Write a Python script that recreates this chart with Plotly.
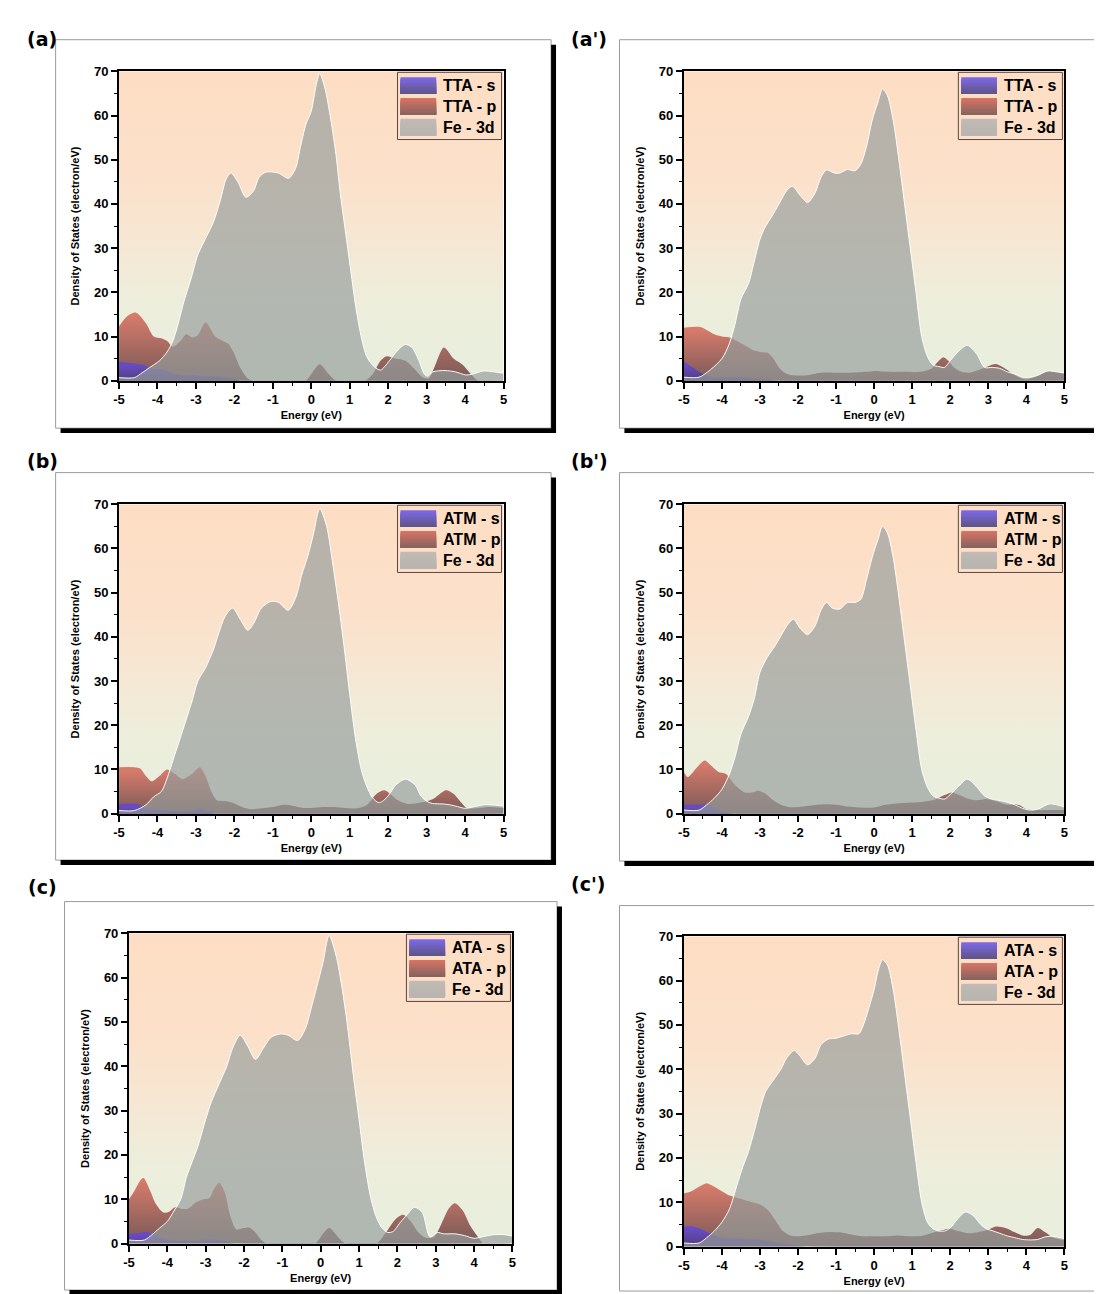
import plotly.graph_objects as go

W, H = 1102, 1294
X_RANGE = [-5, 5]
Y_RANGE = [0, 70]
X_TICKS = [-5, -4, -3, -2, -1, 0, 1, 2, 3, 4, 5]
X_TICK_TEXT = ["-5", "-4", "-3", "-2", "-1", "0", "1", "2", "3", "4", "5"]
Y_TICKS = [0, 10, 20, 30, 40, 50, 60, 70]
Y_TICK_TEXT = ["0", "10", "20", "30", "40", "50", "60", "70"]

# ---------------- data ----------------
# Panel (a) TTA
A_FE_X = [-5, -4.6, -4.4, -4.2, -3.95, -3.75, -3.6, -3.49, -3.31, -3.13, -2.95, -2.76, -2.54, -2.36, -2.22, -2.09, -1.91, -1.7, -1.5, -1.36, -1.18, -0.86, -0.59, -0.41, -0.28, -0.14, 0.0, 0.13, 0.22, 0.36, 0.49, 0.63, 0.76, 0.9, 1.04, 1.17, 1.31, 1.44, 1.62, 1.8, 2.03, 2.21, 2.44, 2.62, 2.8, 2.94, 3.03, 3.16, 3.48, 3.75, 4.02, 4.2, 4.48, 4.75, 5]
A_FE_Y = [0.7, 0.7, 1.8, 3.0, 4.5, 6.5, 9, 12, 18, 23, 28.5, 32, 36, 41, 45.5, 47, 45, 41.5, 43, 46, 47.2, 47, 45.8, 48, 53, 58, 61, 67, 69.5, 66, 60, 52, 42, 33, 24, 16, 9.5, 5.5, 3.3, 2.4, 4.5, 6.5, 8.2, 7.5, 4.5, 1.5, 1.0, 2.0, 2.3, 2.0, 1.3, 1.5, 2.2, 2.0, 1.7]
A_P_X = [-5, -4.8, -4.56, -4.3, -4.1, -3.9, -3.75, -3.6, -3.4, -3.25, -3.1, -2.95, -2.75, -2.5, -2.3, -2.15, -2.0, -1.85, -1.65, -1.5, -0.15, 0.0, 0.22, 0.45, 0.65, 1.4, 1.6, 1.8, 1.95, 2.2, 2.45, 2.7, 2.9, 3.05, 3.2, 3.45, 3.7, 3.95, 4.15, 4.35, 5]
A_P_Y = [12.3, 14.5, 15.4, 13, 10, 9.6, 9, 7.7, 9, 10.5, 9.8, 10.3, 13.2, 10, 9, 8.3, 6, 3, 0.5, 0, 0, 1.5, 3.7, 1.5, 0, 0, 1.5, 4.5, 5.5, 5, 4.5, 2.5, 0.8, 0.5, 3, 7.5, 5, 3.5, 1.5, 0, 0]
A_S_X = [-5, -4.5, -4.3, -4.15, -3.85, -3.5, -3.0, -2.7, -2.3, -2.0, -1.8, 5]
A_S_Y = [4.3, 3.8, 3.4, 2.7, 2.6, 1.4, 1.2, 1.0, 0.8, 0.4, 0, 0]

# Panel (a') TTA
AP_FE_X = [-5, -4.6, -4.3, -4.0, -3.8, -3.65, -3.5, -3.3, -3.15, -3.0, -2.85, -2.7, -2.5, -2.3, -2.15, -1.95, -1.75, -1.55, -1.4, -1.25, -1.05, -0.9, -0.7, -0.5, -0.35, -0.2, -0.05, 0.1, 0.22, 0.35, 0.5, 0.65, 0.8, 0.95, 1.1, 1.25, 1.4, 1.55, 1.7, 1.85, 2.0, 2.2, 2.45, 2.7, 2.9, 3.1, 3.3, 3.5, 3.7, 3.9, 4.1, 4.3, 4.55, 4.8, 5]
AP_FE_Y = [0.8, 0.8, 2.5, 5, 8.5, 13, 18.5, 22, 27, 32, 35, 37, 40, 43, 44, 42, 40.3, 42.5, 46, 47.7, 47, 47, 47.8, 47.5, 49, 53, 59, 63, 66, 64.5, 59, 50, 40, 30, 20, 10, 5.5, 3.5, 3.2, 3.0, 4.5, 6.5, 8, 6, 3, 3, 2.8, 2, 1.5, 0.8, 0.8, 1.2, 2.2, 2, 1.8]
AP_P_X = [-5, -4.6, -4.4, -4.2, -4.0, -3.8, -3.6, -3.4, -3.2, -3.0, -2.8, -2.65, -2.5, -2.35, -2.2, -1.8, -1.4, -1.0, -0.6, -0.2, 0.0, 0.4, 0.8, 1.2, 1.5, 1.7, 1.82, 1.95, 2.1, 2.3, 2.5, 2.7, 3.0, 3.2, 3.4, 3.6, 3.8, 4.0, 4.2, 4.4, 4.6, 4.8, 5]
AP_P_Y = [12, 12.2, 11.5, 10.5, 10, 9.8, 9, 8, 7, 6.5, 6.3, 5, 3, 1.8, 1.3, 1.2, 1.8, 1.8, 1.8, 2.0, 2.2, 2.0, 2.0, 2.0, 2.7, 4.5, 5.3, 4.5, 3, 2, 1.8, 2.3, 3.3, 3.8, 3.0, 1.8, 0.8, 0.3, 0.8, 1.5, 2.2, 1.9, 1.5]
AP_S_X = [-5, -4.8, -4.6, -4.4, -4.2, -4.0, -3.6, -3.2, -2.8, -2.5, 5]
AP_S_Y = [4.3, 3.2, 2.0, 1.2, 0.8, 0.7, 0.9, 0.6, 0.3, 0, 0]

# Panel (b) ATM
B_FE_X = [-5, -4.6, -4.3, -4.1, -3.9, -3.75, -3.6, -3.45, -3.3, -3.1, -2.95, -2.75, -2.55, -2.4, -2.25, -2.05, -1.85, -1.65, -1.5, -1.3, -1.05, -0.85, -0.6, -0.4, -0.25, -0.1, 0.05, 0.22, 0.4, 0.55, 0.7, 0.85, 1.0, 1.15, 1.3, 1.45, 1.6, 1.75, 1.85, 2.0, 2.2, 2.45, 2.7, 2.85, 3.0, 3.15, 3.4, 3.6, 3.8, 4.0, 4.2, 4.5, 4.8, 5]
B_FE_Y = [0.7, 0.7, 2, 3.8, 5, 8, 12, 16, 20, 25.5, 30, 33, 37, 41, 44.5, 46.5, 44, 41.5, 43, 46.5, 48, 47.8, 46, 49, 54, 58, 63, 69, 65, 57, 48, 38, 27, 17, 10, 6, 3.5, 2.5, 2.8, 4, 6.5, 7.8, 6.5, 4, 2.8, 2.3, 2.2, 2.0, 1.6, 1.2, 1.5, 2.0, 1.9, 1.7]
B_P_X = [-5, -4.6, -4.45, -4.3, -4.15, -3.95, -3.75, -3.55, -3.35, -3.1, -2.9, -2.75, -2.6, -2.45, -2.2, -2.0, -1.8, -1.6, -1.3, -1.0, -0.7, -0.5, -0.2, 0.0, 0.3, 0.6, 0.9, 1.2, 1.45, 1.7, 1.9, 2.05, 2.25, 2.5, 2.7, 3.0, 3.2, 3.5, 3.7, 3.9, 4.05, 4.3, 4.6, 5]
B_P_Y = [10.5, 10.5, 10.2, 8.5, 7.3, 8.5, 10, 9, 7.8, 9, 10.5, 8.5, 5, 3, 2.8, 2.3, 1.5, 1.0, 1.2, 1.5, 2.0, 1.8, 1.3, 1.3, 1.5, 1.5, 1.3, 1.2, 2, 4.5, 5.3, 4.5, 3, 2.2, 2.3, 2.8, 3.5, 5.3, 4.5, 2.5, 1.2, 1.2, 1.5, 1.3]
B_S_X = [-5, -4.5, -4.4, -4.2, -4.0, -3.7, -3.4, -3.1, -2.9, -2.7, -2.5, 5]
B_S_Y = [2.2, 2.2, 1.6, 1.0, 0.8, 0.7, 0.4, 0.6, 1.0, 0.6, 0, 0]

# Panel (b') ATM
BP_FE_X = [-5, -4.6, -4.4, -4.2, -4.0, -3.8, -3.65, -3.5, -3.3, -3.15, -3.0, -2.8, -2.6, -2.4, -2.25, -2.12, -1.95, -1.75, -1.55, -1.4, -1.25, -1.1, -0.9, -0.7, -0.5, -0.35, -0.2, -0.05, 0.1, 0.22, 0.35, 0.5, 0.65, 0.8, 0.95, 1.1, 1.25, 1.4, 1.55, 1.7, 1.85, 2.0, 2.2, 2.45, 2.7, 2.9, 3.1, 3.4, 3.7, 3.9, 4.1, 4.3, 4.6, 4.8, 5]
BP_FE_Y = [0.8, 0.8, 2, 3.5, 5.5, 9, 13, 18, 22, 26, 32, 35.5, 38, 41, 43, 44, 42, 40.5, 42.5, 46, 47.8, 46.5, 46.3, 47.8, 47.8, 48.5, 53, 58, 62, 65, 63.5, 58, 49, 39, 29, 19, 10, 6, 4, 3.5, 3.3, 4.3, 6, 7.8, 6, 4, 3.3, 2.8, 2, 1.2, 0.8, 1.0, 2.2, 2.0, 1.5]
BP_P_X = [-5, -4.9, -4.75, -4.6, -4.45, -4.3, -4.1, -3.9, -3.75, -3.6, -3.4, -3.2, -3.05, -2.85, -2.65, -2.45, -2.25, -2.0, -1.7, -1.3, -1.0, -0.7, -0.4, 0.0, 0.3, 0.6, 1.0, 1.3, 1.6, 1.85, 2.05, 2.3, 2.5, 2.7, 2.95, 3.2, 3.5, 3.7, 3.85, 4.0, 4.3, 4.6, 5]
BP_P_Y = [9.5, 8.3, 9.5, 11, 12, 11, 9.5, 9, 7.5, 6, 4.8, 4.8, 5.2, 4.5, 3, 2, 1.5, 1.5, 1.8, 2.1, 2, 1.6, 1.4, 1.4, 2, 2.3, 2.5, 2.7, 3.2, 4.2, 4.8, 4, 3.3, 3, 3.3, 2.8, 2.0, 2.1, 1.8, 1.0, 0.8, 0.8, 0.8]
BP_S_X = [-5, -4.6, -4.4, -4.25, -4.1, -3.9, -3.7, 5]
BP_S_Y = [2.0, 2.0, 2.1, 1.5, 0.8, 0.3, 0, 0]

# Panel (c) ATA
C_FE_X = [-5, -4.6, -4.4, -4.2, -4.0, -3.85, -3.65, -3.5, -3.35, -3.2, -3.0, -2.85, -2.65, -2.45, -2.3, -2.1, -1.9, -1.7, -1.5, -1.3, -1.05, -0.85, -0.6, -0.4, -0.25, -0.1, 0.05, 0.22, 0.4, 0.55, 0.7, 0.85, 1.0, 1.15, 1.3, 1.45, 1.6, 1.75, 1.9, 2.05, 2.25, 2.45, 2.65, 2.85, 3.05, 3.2, 3.5, 3.75, 4.0, 4.2, 4.5, 4.8, 5]
C_FE_Y = [0.8, 0.8, 2, 3.5, 5, 7, 10, 15, 18.5, 22, 28, 32, 36, 40, 44, 47, 44.5, 41.5, 44, 46.5, 47.3, 47, 45.8, 48.5, 53, 58, 63, 69.5, 65, 58, 49, 38, 28, 18, 10.5, 6, 3.5, 2.5, 2.8, 4.5, 6.5, 8.2, 7, 1.5, 2.5, 2.2, 2.2, 1.8, 1.2, 1.5, 2.0, 2.0, 1.7]
C_P_X = [-5, -4.85, -4.7, -4.62, -4.45, -4.3, -4.1, -3.95, -3.8, -3.6, -3.45, -3.25, -3.05, -2.9, -2.8, -2.65, -2.5, -2.35, -2.2, -2.0, -1.85, -1.7, -1.55, -1.4, -0.15, 0.0, 0.22, 0.45, 0.65, 1.45, 1.7, 1.95, 2.15, 2.35, 2.55, 2.75, 2.95, 3.15, 3.35, 3.5, 3.7, 3.9, 4.1, 4.25, 5]
C_P_Y = [10, 12, 14.3, 14.8, 12, 9, 7, 7.2, 8.2, 7.8, 7.9, 9.3, 10, 10.3, 12, 13.7, 11.5, 6, 3.2, 3.5, 3.6, 2.5, 0.8, 0, 0, 1.5, 3.5, 1.5, 0, 0, 2.5, 5.5, 6.5, 5, 2.5, 1.3, 1.5, 4.5, 8, 9.1, 7.5, 4, 1.5, 0, 0]
C_S_X = [-5, -4.75, -4.55, -4.4, -4.2, -4.0, -3.6, -3.2, -2.9, -2.6, -2.4, -2.2, 5]
C_S_Y = [2.2, 2.4, 2.6, 2.3, 1.5, 1.0, 0.5, 0.6, 1.0, 0.7, 0.3, 0, 0]

# Panel (c') ATA
CP_FE_X = [-5, -4.6, -4.4, -4.2, -4.0, -3.8, -3.6, -3.45, -3.3, -3.15, -3.0, -2.85, -2.65, -2.45, -2.3, -2.1, -1.95, -1.75, -1.55, -1.4, -1.2, -1.0, -0.8, -0.6, -0.4, -0.28, -0.15, 0.0, 0.1, 0.22, 0.35, 0.5, 0.65, 0.8, 0.95, 1.1, 1.25, 1.4, 1.55, 1.7, 1.85, 2.0, 2.2, 2.4, 2.6, 2.8, 2.95, 3.1, 3.3, 3.5, 3.7, 3.9, 4.1, 4.3, 4.5, 4.7, 5]
CP_FE_Y = [0.8, 0.8, 2, 3.5, 5.5, 8.5, 14, 18, 21.5, 26, 31, 35, 37.5, 40, 42.5, 44.2, 43, 41, 42.5, 45.5, 46.8, 47, 47.5, 48, 48, 50, 53.5, 58, 62, 64.7, 63.5, 58, 49, 39, 29, 19, 10, 5.5, 4, 3.5, 3.5, 4.2, 6.3, 7.8, 7, 5, 4, 3.6, 3, 2.4, 2.0, 1.6, 1.5, 1.6, 2.2, 2.3, 1.8]
CP_P_X = [-5, -4.8, -4.6, -4.4, -4.2, -4.0, -3.8, -3.6, -3.4, -3.2, -3.0, -2.8, -2.6, -2.4, -2.2, -2.0, -1.8, -1.5, -1.2, -0.9, -0.6, -0.3, 0.0, 0.3, 0.6, 1.0, 1.3, 1.6, 1.85, 2.0, 2.2, 2.5, 2.75, 3.0, 3.2, 3.45, 3.7, 3.9, 4.1, 4.3, 4.5, 4.7, 5]
CP_P_Y = [12, 12.5, 13.5, 14.3, 13.5, 12.5, 11.5, 11, 10.5, 10, 9.5, 8.3, 6, 3.5, 2.5, 2.3, 2.5, 3.0, 3.3, 3.2, 2.7, 2.3, 2.3, 2.3, 2.5, 2.3, 2.5, 3.3, 3.8, 4.0, 3.5, 3.0, 3.3, 3.8, 4.5, 4.2, 3.2, 2.5, 2.6, 4.2, 3.2, 2.0, 1.5]
CP_S_X = [-5, -4.8, -4.6, -4.4, -4.2, -4.0, -3.6, -3.2, -2.9, -2.6, -2.3, -2.0, -1.7, 5]
CP_S_Y = [4.5, 4.6, 4.2, 3.3, 2.6, 2.0, 1.8, 1.6, 1.5, 1.0, 0.5, 0.2, 0, 0]

PANEL_LABELS = ["(a)", "(a')", "(b)", "(b')", "(c)", "(c')"]
LIGAND_NAMES = ["TTA", "TTA", "ATM", "ATM", "ATA", "ATA"]
X_TITLE = "Energy (eV)"
Y_TITLE = "Density of States (electron/eV)"

# ---------------- layout geometry (pixels) ----------------
PANELS = [
    dict(fe=(A_FE_X, A_FE_Y), p=(A_P_X, A_P_Y), s=(A_S_X, A_S_Y),
         plot=(106, 57, 494, 370), frame=(42, 25, 542, 418), sr=True, sb=True, lab=(11, 24)),
    dict(fe=(AP_FE_X, AP_FE_Y), p=(AP_P_X, AP_P_Y), s=(AP_S_X, AP_S_Y),
         plot=(676, 57, 1060, 370), frame=(611, 25, 1110, 418), sr=False, sb=True, lab=(560, 24)),
    dict(fe=(B_FE_X, B_FE_Y), p=(B_P_X, B_P_Y), s=(B_S_X, B_S_Y),
         plot=(106, 495, 494, 808), frame=(42, 463, 542, 855), sr=True, sb=True, lab=(11, 451)),
    dict(fe=(BP_FE_X, BP_FE_Y), p=(BP_P_X, BP_P_Y), s=(BP_S_X, BP_S_Y),
         plot=(676, 495, 1060, 808), frame=(611, 463, 1110, 856), sr=False, sb=True, lab=(560, 451)),
    dict(fe=(C_FE_X, C_FE_Y), p=(C_P_X, C_P_Y), s=(C_S_X, C_S_Y),
         plot=(116, 929, 503, 1243), frame=(51, 897, 548, 1290), sr=True, sb=True, lab=(12, 882)),
    dict(fe=(CP_FE_X, CP_FE_Y), p=(CP_P_X, CP_P_Y), s=(CP_S_X, CP_S_Y),
         plot=(676, 932, 1060, 1246), frame=(611, 901, 1110, 1291), sr=False, sb=False, lab=(560, 879)),
]

FONT = "Liberation Sans, Arial, sans-serif"
BG_SCALE = [[0.0, "rgb(232,238,221)"], [0.25, "rgb(237,238,220)"], [0.5, "rgb(247,230,210)"],
            [0.68, "rgb(252,224,201)"], [1.0, "rgb(253,222,196)"]]
P_SCALE = [[0.0, "rgba(108,80,80,0.95)"], [1.0, "rgba(214,116,100,0.95)"]]
S_SCALE = [[0.0, "rgba(72,58,110,0.95)"], [1.0, "rgba(102,74,200,0.95)"]]
FE_FILL = "rgba(150,157,156,0.68)"
SWATCH = {
    "s": ((125, 105, 230), (95, 85, 135)),
    "p": ((215, 115, 100), (135, 100, 95)),
    "fe": ((194, 186, 180), (184, 180, 176)),
}


def xp(px):
    return px / W


def yp(py):
    return 1 - py / H


fig = go.Figure()
shapes = []
annotations = []

for i, P in enumerate(PANELS):
    n = i + 1
    xa = "x" if n == 1 else f"x{n}"
    ya = "y" if n == 1 else f"y{n}"
    # background gradient rectangle spanning the axes range
    fig.add_trace(go.Scatter(
        x=[X_RANGE[0], X_RANGE[1], X_RANGE[1], X_RANGE[0], X_RANGE[0]],
        y=[Y_RANGE[0], Y_RANGE[0], Y_RANGE[1], Y_RANGE[1], Y_RANGE[0]],
        mode="lines", line=dict(width=0), fill="toself",
        fillgradient=dict(type="vertical", colorscale=BG_SCALE, start=Y_RANGE[0], stop=Y_RANGE[1]),
        hoverinfo="skip", showlegend=False, xaxis=xa, yaxis=ya))
    lig = LIGAND_NAMES[i]
    # p states
    fig.add_trace(go.Scatter(
        x=P["p"][0], y=P["p"][1], mode="lines", fill="tozeroy",
        line=dict(width=0, shape="spline", smoothing=0.8),
        fillgradient=dict(type="vertical", colorscale=P_SCALE, start=0, stop=max(P["p"][1])),
        name=f"{lig} - p", showlegend=False, xaxis=xa, yaxis=ya))
    # s states
    fig.add_trace(go.Scatter(
        x=P["s"][0], y=P["s"][1], mode="lines", fill="tozeroy",
        line=dict(width=0, shape="spline", smoothing=0.8),
        fillgradient=dict(type="vertical", colorscale=S_SCALE, start=0, stop=max(P["s"][1])),
        name=f"{lig} - s", showlegend=False, xaxis=xa, yaxis=ya))
    # Fe 3d
    fig.add_trace(go.Scatter(
        x=P["fe"][0], y=P["fe"][1], mode="lines", fill="tozeroy", fillcolor=FE_FILL,
        line=dict(width=1, color="rgba(255,255,255,0.95)", shape="spline", smoothing=0.8),
        name="Fe - 3d", showlegend=False, xaxis=xa, yaxis=ya))

    x0, y0, x1, y1 = P["plot"]
    axis_common = dict(showgrid=False, zeroline=False, showline=True, linewidth=2, linecolor="black",
                       mirror=True, ticks="outside", ticklen=6, tickwidth=1.5, tickcolor="black",
                       tickfont=dict(family=FONT, size=13, color="black", weight="bold"))
    fig.layout[f"xaxis{'' if n == 1 else n}"] = dict(
        axis_common, domain=[xp(x0), xp(x1)], anchor=ya, range=X_RANGE,
        tickmode="array", tickvals=X_TICKS, ticktext=X_TICK_TEXT,
        minor=dict(dtick=0.5, tick0=-5, ticks="outside", ticklen=3, tickwidth=1.2, tickcolor="black"),
        title=dict(text=X_TITLE, font=dict(family=FONT, size=11, color="black", weight="bold"), standoff=5))
    fig.layout[f"yaxis{'' if n == 1 else n}"] = dict(
        axis_common, domain=[yp(y1), yp(y0)], anchor=xa, range=Y_RANGE,
        tickmode="array", tickvals=Y_TICKS, ticktext=Y_TICK_TEXT,
        minor=dict(dtick=5, tick0=0, ticks="outside", ticklen=3, tickwidth=1.2, tickcolor="black"),
        title=dict(text=Y_TITLE, font=dict(family=FONT, size=11, color="black", weight="bold"), standoff=12))

    # frame and shadow
    fl, ft, fr, fb = P["frame"]
    shapes.append(dict(type="rect", xref="paper", yref="paper", x0=xp(fl), x1=xp(fr), y0=yp(fb), y1=yp(ft),
                       line=dict(color="#9a9a9a", width=1), layer="below"))
    if P["sr"]:
        shapes.append(dict(type="rect", xref="paper", yref="paper", x0=xp(fr), x1=xp(fr + 5),
                           y0=yp(fb + 5), y1=yp(ft + 5), fillcolor="black", line=dict(width=0)))
    if P["sb"]:
        shapes.append(dict(type="rect", xref="paper", yref="paper", x0=xp(fl + 5), x1=xp(fr + 5),
                           y0=yp(fb + 5), y1=yp(fb), fillcolor="black", line=dict(width=0)))

    # panel label
    lx, ly = P["lab"]
    annotations.append(dict(text=PANEL_LABELS[i], xref="paper", yref="paper", x=xp(lx), y=yp(ly),
                            xanchor="left", yanchor="middle", showarrow=False,
                            font=dict(family="DejaVu Sans", size=19, color="black", weight="bold")))

    # custom legend
    bl, bt, br, bb = x1 - 107, y0 + 1, x1 - 2, y0 + 69
    shapes.append(dict(type="rect", xref="paper", yref="paper", x0=xp(bl), x1=xp(br), y0=yp(bb), y1=yp(bt),
                       line=dict(color="rgb(90,70,70)", width=1)))
    entries = [("s", f"{lig} - s"), ("p", f"{lig} - p"), ("fe", "Fe - 3d")]
    for k, (key, txt) in enumerate(entries):
        top = bt + 5 + 21 * k
        hgt = 17
        ctop, cbot = SWATCH[key]
        nstrip = 12
        for j in range(nstrip):
            f = j / (nstrip - 1)
            col = tuple(int(round(ctop[c] + (cbot[c] - ctop[c]) * f)) for c in range(3))
            # each strip reaches down to the swatch bottom, later strips cover the lower part
            shapes.append(dict(type="rect", xref="paper", yref="paper",
                               x0=xp(bl + 3), x1=xp(bl + 39),
                               y0=yp(top + hgt), y1=yp(top + hgt * j / nstrip),
                               fillcolor=f"rgb{col}", line=dict(width=0)))
        annotations.append(dict(text=txt, xref="paper", yref="paper", x=xp(bl + 44), y=yp(top + hgt / 2),
                                xanchor="left", yanchor="middle", showarrow=False,
                                font=dict(family=FONT, size=16, color="black", weight="bold")))

fig.update_layout(width=W, height=H, margin=dict(l=0, r=0, t=0, b=0),
                  paper_bgcolor="white", plot_bgcolor="rgba(0,0,0,0)",
                  shapes=shapes, annotations=annotations, showlegend=False)

fig.write_html("out.html")
